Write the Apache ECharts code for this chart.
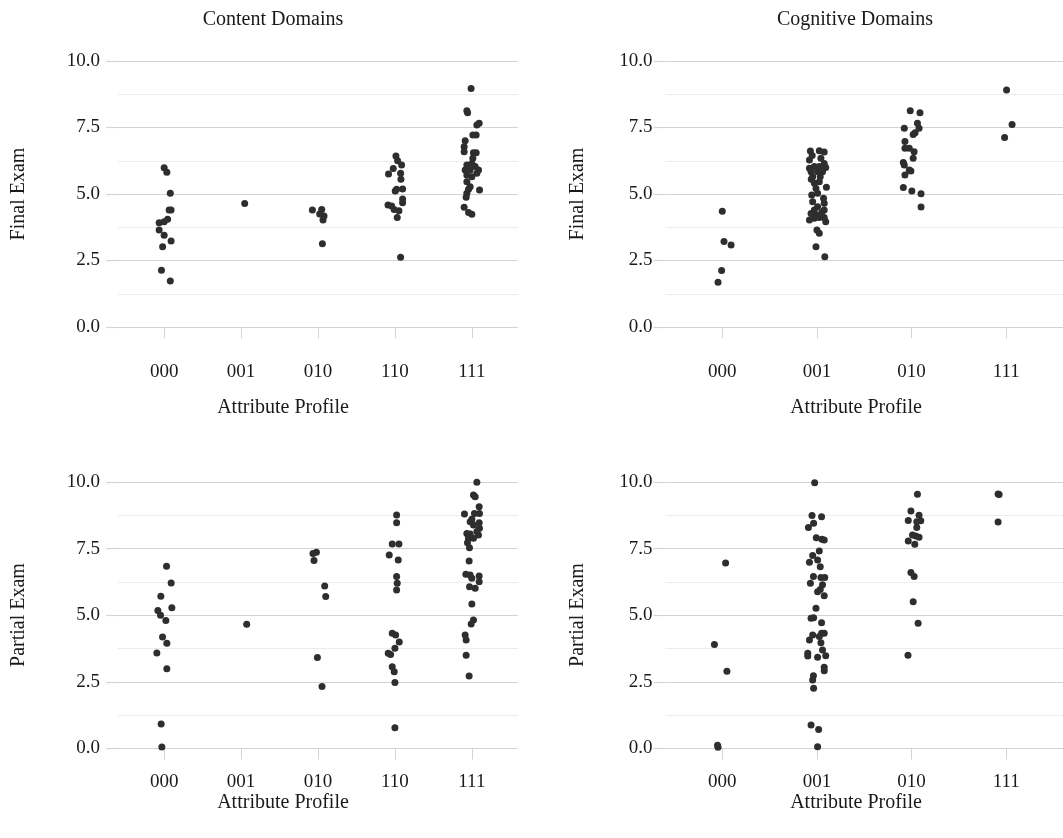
<!DOCTYPE html>
<html>
<head>
<meta charset="utf-8">
<script src="https://cdn.jsdelivr.net/npm/echarts@6/dist/echarts.min.js"></script>
<style>
html,body{margin:0;padding:0;background:#fff;}
#chart{width:1063px;height:838px;}
</style>
</head>
<body>
<div id="chart"></div>
<script>
// ---- categories & tick labels ----
const contentCategories = ['000', '001', '010', '110', '111'];
const cognitiveCategories = ['000', '001', '010', '111'];
const yTickValues = [0, 2.5, 5, 7.5, 10];

// ---- Content Domains / Final Exam (scores per profile, jitter in category units) ----
const contentFinalScores = [
  [5.99, 5.82, 5.03, 4.40, 4.40, 4.05, 3.96, 3.92, 3.65, 3.45, 3.23, 3.02, 2.13, 1.73],
  [4.64],
  [4.40, 4.42, 4.25, 4.17, 4.02, 3.13],
  [6.43, 6.25, 6.09, 5.96, 5.75, 5.78, 5.55, 5.18, 5.19, 5.11, 4.81, 4.67, 4.59, 4.55, 4.42, 4.37, 4.12, 2.62],
  [8.97, 8.13, 8.05, 7.66, 7.59, 7.22, 7.22, 7.00, 6.78, 6.59, 6.55, 6.55, 6.34, 6.09, 6.15, 6.03, 5.90, 5.90, 5.90, 5.71, 5.78, 5.65, 5.46, 5.27, 5.18, 5.15, 5.03, 4.88, 4.50, 4.30, 4.24]
];
const contentFinalJitter = [
  [0.00, 0.035, 0.08, 0.065, 0.09, 0.045, 0.0, -0.065, -0.065, 0.0, 0.09, -0.02, -0.035, 0.08],
  [0.047],
  [-0.073, 0.048, 0.022, 0.078, 0.065, 0.057],
  [0.013, 0.035, 0.087, -0.022, -0.083, 0.074, 0.078, 0.022, 0.1, 0.004, 0.1, 0.1, -0.09, -0.043, -0.01, 0.052, 0.03, 0.074],
  [-0.01, -0.065, -0.055, 0.095, 0.065, 0.013, 0.056, -0.087, -0.1, -0.1, 0.02, 0.056, 0.013, -0.065, 0, 0.043, -0.087, -0.022, 0.087, -0.065, 0.065, 0, -0.065, -0.022, -0.043, 0.1, -0.065, -0.074, -0.1, -0.043, 0]
];

// ---- Cognitive Domains / Final Exam ----
const cognitiveFinalScores = [
  [4.35, 3.21, 3.08, 2.12, 1.68],
  [6.62, 6.63, 6.58, 6.28, 6.34, 6.15, 5.97, 6.03, 6.03, 6.00, 5.84, 5.84, 5.84, 5.65, 5.65, 5.40, 5.46, 5.25, 5.21, 4.96, 5.03, 4.84, 4.71, 4.65, 4.52, 4.40, 4.40, 4.27, 4.21, 4.02, 4.09, 4.12, 3.96, 4.12, 3.65, 3.52, 3.02, 2.64, 6.45, 5.90, 5.55, 4.30],
  [8.13, 8.05, 7.66, 7.47, 7.47, 7.30, 7.24, 6.97, 6.72, 6.72, 6.59, 6.34, 6.18, 6.09, 5.90, 5.86, 5.71, 5.24, 5.11, 5.01, 4.51],
  [8.91, 7.61, 7.12]
];
const cognitiveFinalJitter = [
  [0, 0.018, 0.093, -0.007, -0.045],
  [-0.069, 0.025, 0.077, -0.079, 0.042, 0.077, -0.079, -0.027, 0.025, 0.093, -0.062, 0.007, 0.059, -0.045, 0.035, -0.027, 0.025, 0.1, -0.01, -0.055, 0.007, 0.07, -0.045, 0.077, 0.007, -0.027, 0.077, -0.062, -0.01, -0.079, -0.027, 0.025, 0.093, 0.077, 0, 0.025, -0.01, 0.083, -0.05, 0.05, -0.06, 0.05],
  [-0.014, 0.089, 0.062, 0.079, -0.077, 0.037, 0.017, -0.07, -0.07, -0.024, 0.027, 0.017, -0.087, -0.077, -0.024, -0.007, -0.07, -0.087, 0.003, 0.1, 0.1],
  [0.004, 0.062, -0.017]
];

// ---- Content Domains / Partial Exam ----
const contentPartialScores = [
  [6.84, 6.21, 5.71, 5.28, 5.18, 5.00, 4.80, 4.18, 3.95, 3.58, 2.99, 0.92, 0.06],
  [4.66],
  [7.36, 7.32, 7.05, 6.10, 5.70, 3.41, 2.33],
  [8.76, 8.47, 7.67, 7.67, 7.26, 7.07, 6.45, 6.20, 5.95, 4.32, 4.26, 4.00, 3.76, 3.57, 3.53, 3.07, 2.88, 2.48, 0.78],
  [9.99, 9.51, 9.45, 9.07, 8.80, 8.82, 8.82, 8.60, 8.51, 8.47, 8.39, 8.26, 8.14, 8.07, 8.05, 8.01, 7.89, 7.89, 7.72, 7.53, 7.04, 6.54, 6.51, 6.47, 6.39, 6.26, 6.07, 6.01, 5.42, 4.82, 4.67, 4.26, 4.07, 3.50, 2.72]
];
const contentPartialJitter = [
  [0.031, 0.091, -0.043, 0.1, -0.082, -0.047, 0.022, -0.021, 0.035, -0.095, 0.035, -0.039, -0.03],
  [0.073],
  [-0.021, -0.065, -0.052, 0.087, 0.1, -0.008, 0.052],
  [0.022, 0.022, -0.035, 0.052, -0.074, 0.043, 0.022, 0.03, 0.022, -0.035, 0.009, 0.056, 0, -0.087, -0.056, -0.035, -0.009, 0, 0],
  [0.065, 0.021, 0.043, 0.095, -0.096, 0.034, 0.099, 0, -0.022, 0.095, 0.021, 0.099, 0.065, -0.065, -0.022, 0.086, -0.044, 0.021, -0.057, -0.031, -0.035, -0.078, -0.022, 0.095, 0, 0.095, -0.03, 0.043, 0, 0.021, -0.009, -0.087, -0.074, -0.074, -0.035]
];

// ---- Cognitive Domains / Partial Exam ----
const cognitivePartialScores = [
  [6.96, 3.90, 2.90, 0.12, 0.05],
  [9.97, 8.74, 8.70, 8.45, 8.29, 7.91, 7.85, 7.82, 7.41, 7.24, 7.07, 6.99, 6.82, 6.45, 6.42, 6.42, 6.20, 6.14, 5.97, 5.88, 5.73, 5.26, 4.91, 4.89, 4.72, 4.32, 4.26, 4.32, 4.20, 4.07, 3.97, 3.70, 3.57, 3.47, 3.42, 3.48, 3.05, 2.92, 2.73, 2.57, 2.26, 0.88, 0.71, 0.07],
  [9.54, 8.91, 8.75, 8.56, 8.55, 8.51, 8.29, 8.01, 7.93, 7.97, 7.79, 7.66, 6.60, 6.45, 5.51, 4.70, 3.50],
  [9.55, 9.53, 8.50]
];
const cognitivePartialJitter = [
  [0.035, -0.083, 0.049, -0.05, -0.045],
  [-0.024, -0.052, 0.049, -0.035, -0.09, -0.007, 0.052, 0.077, 0.025, -0.045, 0.007, -0.079, 0.035, -0.037, 0.042, 0.083, -0.069, 0.059, 0.035, 0.007, 0.077, -0.01, -0.035, -0.062, 0.049, 0.049, -0.045, 0.077, 0.025, -0.079, 0.042, 0.059, -0.097, -0.097, 0.007, 0.093, 0.077, 0.077, -0.037, -0.045, -0.035, -0.062, 0.018, 0.007],
  [0.062, -0.007, 0.079, -0.035, 0.097, 0.055, 0.055, 0.01, 0.079, 0.045, -0.035, 0.034, -0.007, 0.027, 0.017, 0.069, -0.038],
  [-0.086, -0.075, -0.086]
];

// ---- build ----
const FONT = 'Liberation Serif';
const TXT = '#1a1a1a';
const MAJOR = '#d3d3d3';
const MINOR = '#ececec';

function toPoints(scores, jitter) {
  const pts = [];
  scores.forEach((vals, i) => {
    vals.forEach((v, k) => pts.push([i + 1 + ((jitter[i] && jitter[i][k]) || 0), v]));
  });
  return pts;
}

const panels = [
  {cats: contentCategories, scores: contentFinalScores, jitter: contentFinalJitter, grid: {left: 118, width: 400, top: 61, height: 266}, labelMargin: 18, xLabelMargin: 22},
  {cats: cognitiveCategories, scores: cognitiveFinalScores, jitter: cognitiveFinalJitter, grid: {left: 665.5, right: -7, top: 61, height: 266}, labelMargin: 13, xLabelMargin: 22},
  {cats: contentCategories, scores: contentPartialScores, jitter: contentPartialJitter, grid: {left: 118, width: 400, top: 482, height: 266.5}, labelMargin: 18, xLabelMargin: 10},
  {cats: cognitiveCategories, scores: cognitivePartialScores, jitter: cognitivePartialJitter, grid: {left: 665.5, right: -7, top: 482, height: 266.5}, labelMargin: 13, xLabelMargin: 10}
];

const catIdx = n => Array.from({length: n}, (_, i) => i + 1);

const option = {
  animation: false,
  backgroundColor: '#ffffff',
  grid: panels.map(p => Object.assign({containLabel: false}, p.grid)),
  xAxis: panels.map((p, i) => ({
    type: 'value',
    gridIndex: i,
    min: 0.4,
    max: p.cats.length + 0.6,
    offset: 14,
    axisLine: {show: false},
    splitLine: {show: false},
    axisTick: {show: true, length: 11, customValues: catIdx(p.cats.length), lineStyle: {color: MAJOR, width: 1}},
    axisLabel: {
      show: true,
      customValues: catIdx(p.cats.length),
      margin: p.xLabelMargin,
      color: TXT,
      fontFamily: FONT,
      fontSize: 19,
      formatter: v => p.cats[Math.round(v) - 1] || ''
    }
  })),
  yAxis: panels.map((p, i) => ({
    type: 'value',
    gridIndex: i,
    min: yTickValues[0],
    max: yTickValues[yTickValues.length - 1],
    interval: 2.5,
    axisLine: {show: false},
    axisTick: {show: true, length: 12, lineStyle: {color: MAJOR, width: 1.2}},
    splitLine: {show: true, lineStyle: {color: MAJOR, width: 1.2}},
    minorTick: {show: false, splitNumber: 2},
    minorSplitLine: {show: true, lineStyle: {color: MINOR, width: 1}},
    axisLabel: {
      margin: p.labelMargin,
      color: TXT,
      fontFamily: FONT,
      fontSize: 19,
      formatter: v => v.toFixed(1)
    }
  })),
  series: panels.map((p, i) => ({
    type: 'scatter',
    xAxisIndex: i,
    yAxisIndex: i,
    symbolSize: 7,
    clip: false,
    itemStyle: {color: '#2e2e2e', opacity: 1},
    data: toPoints(p.scores, p.jitter)
  })),
  graphic: [
    {type: 'text', x: 273, y: 20, style: {text: 'Content Domains', font: '20px "' + FONT + '"', fill: TXT, align: 'center', verticalAlign: 'middle', textAlign: 'center', textVerticalAlign: 'middle'}},
    {type: 'text', x: 855, y: 20, style: {text: 'Cognitive Domains', font: '20px "' + FONT + '"', fill: TXT, align: 'center', verticalAlign: 'middle', textAlign: 'center', textVerticalAlign: 'middle'}},
    {type: 'text', x: 283, y: 408, style: {text: 'Attribute Profile', font: '20px "' + FONT + '"', fill: TXT, align: 'center', verticalAlign: 'middle', textAlign: 'center', textVerticalAlign: 'middle'}},
    {type: 'text', x: 856, y: 408, style: {text: 'Attribute Profile', font: '20px "' + FONT + '"', fill: TXT, align: 'center', verticalAlign: 'middle', textAlign: 'center', textVerticalAlign: 'middle'}},
    {type: 'text', x: 283, y: 803, style: {text: 'Attribute Profile', font: '20px "' + FONT + '"', fill: TXT, align: 'center', verticalAlign: 'middle', textAlign: 'center', textVerticalAlign: 'middle'}},
    {type: 'text', x: 856, y: 803, style: {text: 'Attribute Profile', font: '20px "' + FONT + '"', fill: TXT, align: 'center', verticalAlign: 'middle', textAlign: 'center', textVerticalAlign: 'middle'}},
    {type: 'text', x: 19, y: 194, rotation: Math.PI / 2, style: {text: 'Final Exam', font: '20px "' + FONT + '"', fill: TXT, align: 'center', verticalAlign: 'middle', textAlign: 'center', textVerticalAlign: 'middle'}},
    {type: 'text', x: 578, y: 194, rotation: Math.PI / 2, style: {text: 'Final Exam', font: '20px "' + FONT + '"', fill: TXT, align: 'center', verticalAlign: 'middle', textAlign: 'center', textVerticalAlign: 'middle'}},
    {type: 'text', x: 19, y: 615, rotation: Math.PI / 2, style: {text: 'Partial Exam', font: '20px "' + FONT + '"', fill: TXT, align: 'center', verticalAlign: 'middle', textAlign: 'center', textVerticalAlign: 'middle'}},
    {type: 'text', x: 578, y: 615, rotation: Math.PI / 2, style: {text: 'Partial Exam', font: '20px "' + FONT + '"', fill: TXT, align: 'center', verticalAlign: 'middle', textAlign: 'center', textVerticalAlign: 'middle'}}
  ]
};

const chart = echarts.init(document.getElementById('chart'), null, {renderer: 'canvas'});
chart.setOption(option);
</script>
</body>
</html>
